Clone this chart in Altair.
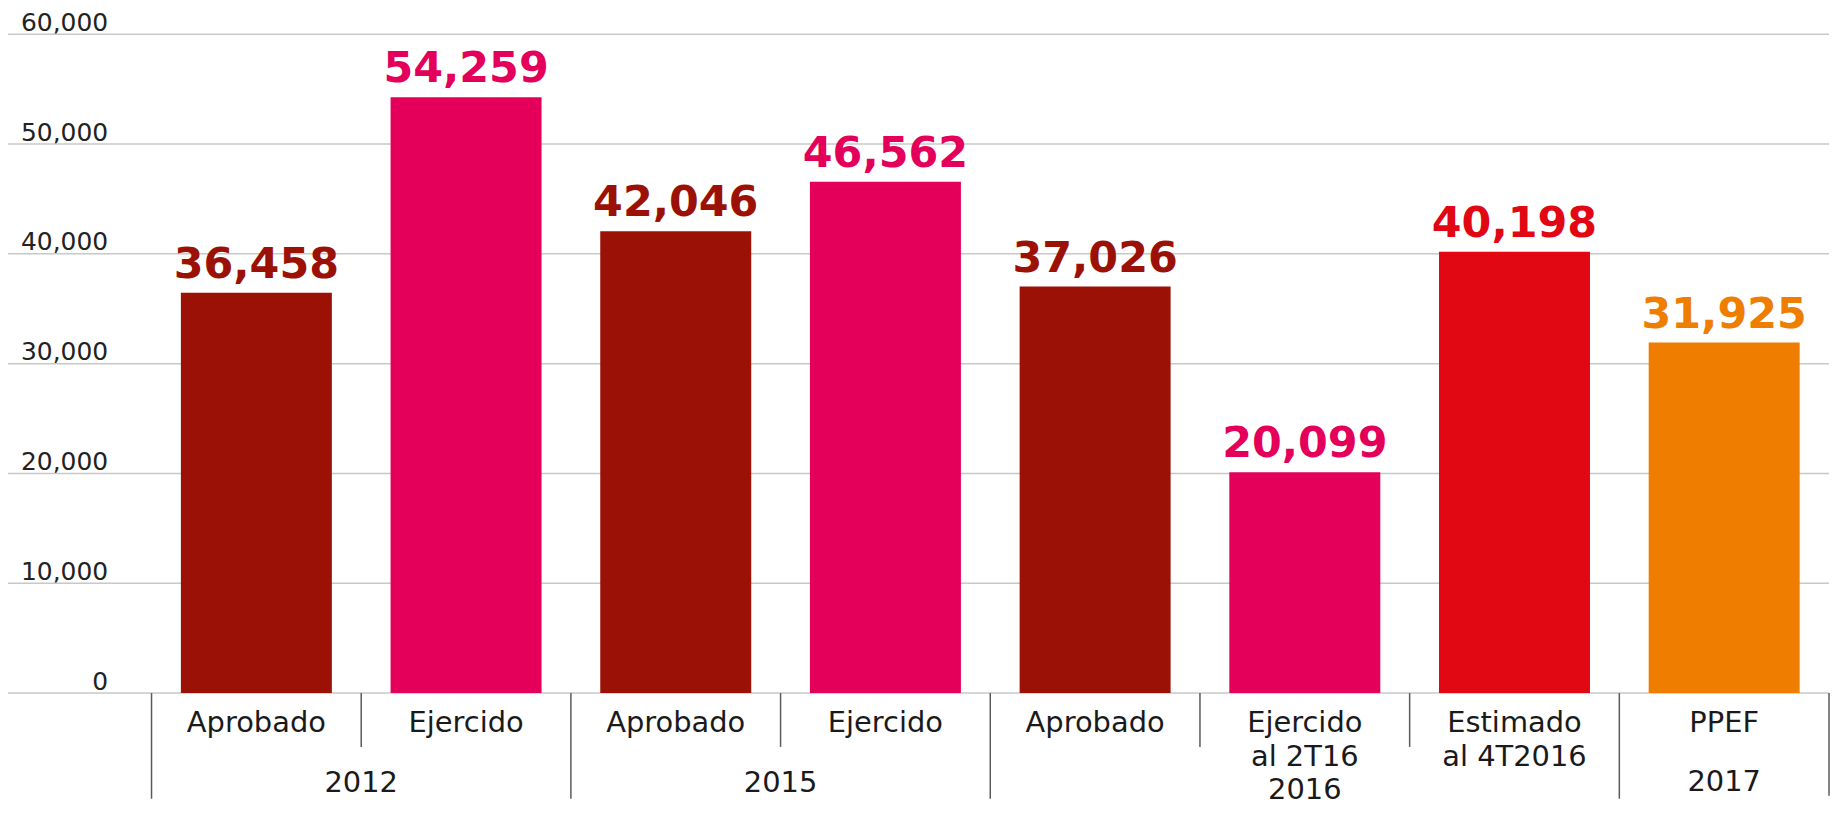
import altair as alt
import pandas as pd

years = ["2012", "2012", "2015", "2015", "2016", "2016", "2016", "2017"]
labels = ["Aprobado", "Ejercido", "Aprobado", "Ejercido", "Aprobado",
          "Ejercido\nal 2T16", "Estimado\nal 4T2016", "PPEF"]
types = ["Aprobado", "Ejercido", "Aprobado", "Ejercido", "Aprobado",
         "Ejercido", "Estimado", "PPEF"]
values = [36458, 54259, 42046, 46562, 37026, 20099, 40198, 31925]
y_ticks = [0, 10000, 20000, 30000, 40000, 50000, 60000]

type_domain = ["Aprobado", "Ejercido", "Estimado", "PPEF"]
type_colors = ["#9b1106", "#e4005a", "#e10713", "#ef7d00"]

keys = [f"{y} {l}" for y, l in zip(years, labels)]

df = pd.DataFrame({"key": keys, "year": years, "label": labels,
                   "type": types, "value": values})

group_first = [k for i, k in enumerate(keys) if i == 0 or years[i] != years[i - 1]]
inner_sep = [k for i, k in enumerate(keys) if i > 0 and years[i] == years[i - 1]]
years_edge = pd.DataFrame({"year": ["2012", "2015"], "key": [keys[1], keys[3]]})
years_mid1 = pd.DataFrame({"year": ["2016"], "key": [keys[5]]})
years_mid2 = pd.DataFrame({"year": ["2017"], "key": [keys[7]]})
tick_df = pd.DataFrame({"tick": y_ticks})

FONT = "DejaVu Sans"
TOP = 25
H = 694 - 8 - TOP
W = 1827
xscale = alt.Scale(domain=keys, range=[144, W], paddingInner=0, paddingOuter=0)
yscale = alt.Scale(domain=[0, 60000], nice=False, zero=True)


def X(bp=0.5):
    return alt.X("key:N", scale=xscale, axis=None, bandPosition=bp)


color = alt.Color("type:N", scale=alt.Scale(domain=type_domain, range=type_colors), legend=None)

grid = alt.Chart(tick_df).mark_rule(color="#c8c8c8", strokeWidth=1.5).encode(
    y=alt.Y("tick:Q", scale=yscale,
            axis=alt.Axis(values=y_ticks, format=",d", title=None, ticks=False,
                          domain=False, grid=False,
                          labelAlign="right", labelBaseline="alphabetic",
                          labelPadding=-100, labelOffset=-4,
                          labelFont=FONT, labelFontSize=25, labelColor="#222222")),
    x=alt.value(0), x2=alt.value(W),
)

base = alt.Chart(df)

bars = base.mark_bar(width=alt.RelativeBandSize(0.72)).encode(
    x=alt.X("key:N", scale=xscale, axis=None),
    y=alt.Y("value:Q", scale=yscale, title=None),
    color=color,
)

value_text = base.mark_text(font=FONT, fontWeight="bold", fontSize=43,
                            baseline="alphabetic", dy=-15).encode(
    x=X(),
    y=alt.Y("value:Q", scale=yscale, title=None),
    text=alt.Text("value:Q", format=",d"),
    color=color,
)

sub_text = base.mark_text(font=FONT, fontSize=29, baseline="alphabetic",
                          lineBreak="\n", lineHeight=34, color="#1a1a1a").encode(
    x=X(),
    y=alt.value(H + 39),
    text="label:N",
)

long_df = pd.DataFrame({"key": group_first})
short_df = pd.DataFrame({"key": inner_sep})
end_df = pd.DataFrame({"key": [keys[-1]]})

sep_long = alt.Chart(long_df).mark_rule(color="#5a5a5a", strokeWidth=1.5).encode(
    x=X(0), y=alt.value(H), y2=alt.value(H + 106))
sep_short = alt.Chart(short_df).mark_rule(color="#5a5a5a", strokeWidth=1.5).encode(
    x=X(0), y=alt.value(H), y2=alt.value(H + 54))
sep_end = alt.Chart(end_df).mark_rule(color="#5a5a5a", strokeWidth=1.5).encode(
    x=X(1), y=alt.value(H), y2=alt.value(H + 103))

yr_style = dict(font=FONT, fontSize=29, baseline="alphabetic", color="#1a1a1a")
yr_edge = alt.Chart(years_edge).mark_text(**yr_style).encode(
    x=X(0), y=alt.value(H + 99), text="year:N")
yr_mid1 = alt.Chart(years_mid1).mark_text(**yr_style).encode(
    x=X(0.5), y=alt.value(H + 106), text="year:N")
yr_mid2 = alt.Chart(years_mid2).mark_text(**yr_style).encode(
    x=X(0.5), y=alt.value(H + 98), text="year:N")

chart = alt.layer(grid, bars, value_text, sub_text, sep_long, sep_short, sep_end,
                  yr_edge, yr_mid1, yr_mid2).properties(
    width=W, height=H,
    autosize=alt.AutoSizeParams(type="none"),
    padding={"left": 0, "top": TOP, "right": 4, "bottom": 799 - TOP - H},
    background="white",
).configure_view(stroke=None)

chart.save("out.html", embed_options={"renderer": "svg", "actions": False})
